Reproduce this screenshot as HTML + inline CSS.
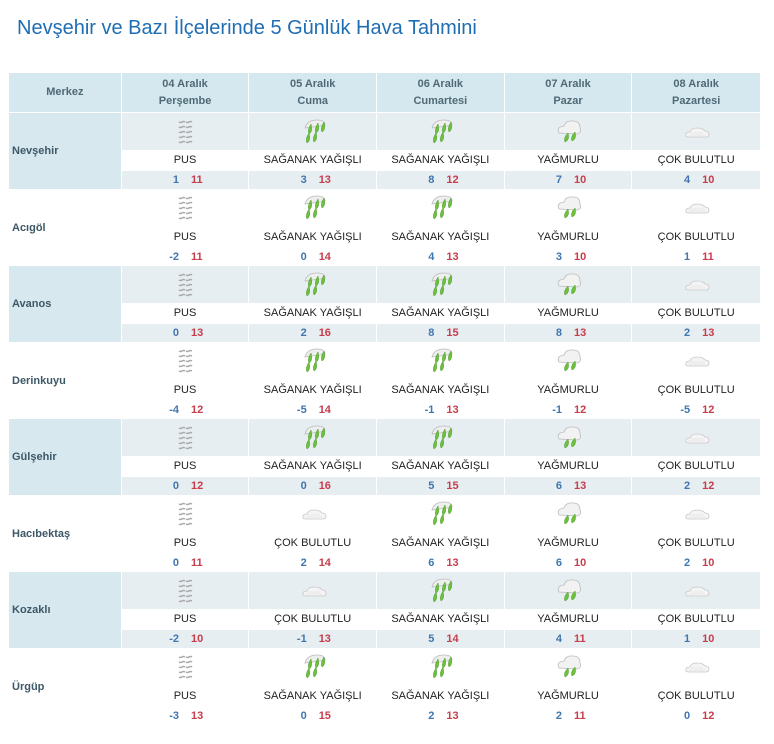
<!DOCTYPE html>
<html><head><meta charset="utf-8"><style>
body{margin:0;width:774px;height:744px;background:#fff;font-family:"Liberation Sans",sans-serif;position:relative;overflow:hidden}
h1{position:absolute;left:17px;top:17px;margin:0;font-weight:normal;font-size:20px;color:#1f6db3;letter-spacing:0}
.hd{position:absolute;left:9px;top:73px;width:751px;height:39px;display:flex;gap:1px}
.hd div{background:#d5e7ef;color:#4f6a76;font-weight:bold;font-size:11px;line-height:17px;text-align:center;display:flex;align-items:center;justify-content:center}
.row{position:absolute;left:9px;width:751px;height:76px;display:flex;gap:1px}
.city{width:112px;font-weight:bold;font-size:11px;color:#3d5866;display:flex;align-items:center;padding-left:3px;box-sizing:border-box}
.c{width:127px;display:flex;flex-direction:column}
.c:last-child{width:128px}
.i{height:37px;display:flex;align-items:center;justify-content:center}
.d{height:21px;font-size:11px;color:#222;text-align:center;line-height:21px}
.t{height:18px;font-size:11px;font-weight:bold;display:flex;justify-content:center;line-height:18px}
.t b:first-child{width:30px;text-align:right;color:#3f76b0;margin-right:12px}
.t b:last-child{width:30px;text-align:left;color:#c63d4c}
.g .city{background:#d7e8ef}
.g .i,.g .t{background:#e7eef1}
svg{width:32px;height:32px}
</style></head><body>
<svg style="position:absolute;width:0;height:0"><defs>
<g id="P" fill="none" stroke="#aaa" stroke-width="1.5"><path d="M10 6q1.5 1 3 0t3 0M10 11q1.5 1 3 0t3 0M10 16q1.5 1 3 0t3 0M10 21q1.5 1 3 0t3 0M10 26q1.5 1 3 0t3 0M17 6q1.5 1 3 0t3 0M17 11q1.5 1 3 0t3 0M17 16q1.5 1 3 0t3 0M17 21q1.5 1 3 0t3 0M17 26q1.5 1 3 0t3 0"/></g>
<g id="S"><path d="M8 12q2-8 12-8q8 0 8 5l-5 1z" fill="#eee" stroke="#bbb" stroke-width=".8"/><path d="M14 8q-4 6-2 10q4-2 2-10zM21 7q-4 6-2 10q4-2 2-10zM27 6q-4 6-2 10q4-2 2-10zM12 17q-4 6-2 10q4-2 2-10zM19 16q-4 6-2 10q4-2 2-10z" fill="#6dc13c" stroke="#4a9a2a" stroke-width=".5"/></g>
<g id="Y"><path d="M7 17q-3-6 5-7q2-6 9-5q7 0 7 7q2 5-3 6z" fill="#f2f2f2" stroke="#bbb" stroke-width=".8"/><path d="M16 17q-5 5-3 9q5-2 3-9zM23 16q-5 5-3 9q5-2 3-9z" fill="#6dc13c" stroke="#4a9a2a" stroke-width=".5"/></g>
<g id="C"><path d="M6 20q-1-4 4-4q1-4 7-4q6 0 8 3q4 0 4 3q0 3-3 3h-17q-3 0-3-1z" fill="#f4f4f4" stroke="#c8c8c8" stroke-width=".8"/><path d="M9 19h16M11 17h12" stroke="#ddd" stroke-width=".6"/></g>
</defs></svg>
<h1>Nevşehir ve Bazı İlçelerinde 5 Günlük Hava Tahmini</h1>
<div class="hd"><div style="width:112px">Merkez</div><div style="width:127px">04 Aralık<br>Perşembe</div><div style="width:127px">05 Aralık<br>Cuma</div><div style="width:127px">06 Aralık<br>Cumartesi</div><div style="width:127px">07 Aralık<br>Pazar</div><div style="width:128px">08 Aralık<br>Pazartesi</div></div>

<div class="row g" style="top:113px"><div class="city">Nevşehir</div>
<div class="c"><div class="i"><svg><use href="#P"/></svg></div><div class="d">PUS</div><div class="t"><b>1</b><b>11</b></div></div>
<div class="c"><div class="i"><svg><use href="#S"/></svg></div><div class="d">SAĞANAK YAĞIŞLI</div><div class="t"><b>3</b><b>13</b></div></div>
<div class="c"><div class="i"><svg><use href="#S"/></svg></div><div class="d">SAĞANAK YAĞIŞLI</div><div class="t"><b>8</b><b>12</b></div></div>
<div class="c"><div class="i"><svg><use href="#Y"/></svg></div><div class="d">YAĞMURLU</div><div class="t"><b>7</b><b>10</b></div></div>
<div class="c"><div class="i"><svg><use href="#C"/></svg></div><div class="d">ÇOK BULUTLU</div><div class="t"><b>4</b><b>10</b></div></div></div>

<div class="row" style="top:189.5px"><div class="city">Acıgöl</div>
<div class="c"><div class="i"><svg><use href="#P"/></svg></div><div class="d">PUS</div><div class="t"><b>-2</b><b>11</b></div></div>
<div class="c"><div class="i"><svg><use href="#S"/></svg></div><div class="d">SAĞANAK YAĞIŞLI</div><div class="t"><b>0</b><b>14</b></div></div>
<div class="c"><div class="i"><svg><use href="#S"/></svg></div><div class="d">SAĞANAK YAĞIŞLI</div><div class="t"><b>4</b><b>13</b></div></div>
<div class="c"><div class="i"><svg><use href="#Y"/></svg></div><div class="d">YAĞMURLU</div><div class="t"><b>3</b><b>10</b></div></div>
<div class="c"><div class="i"><svg><use href="#C"/></svg></div><div class="d">ÇOK BULUTLU</div><div class="t"><b>1</b><b>11</b></div></div></div>

<div class="row g" style="top:266px"><div class="city">Avanos</div>
<div class="c"><div class="i"><svg><use href="#P"/></svg></div><div class="d">PUS</div><div class="t"><b>0</b><b>13</b></div></div>
<div class="c"><div class="i"><svg><use href="#S"/></svg></div><div class="d">SAĞANAK YAĞIŞLI</div><div class="t"><b>2</b><b>16</b></div></div>
<div class="c"><div class="i"><svg><use href="#S"/></svg></div><div class="d">SAĞANAK YAĞIŞLI</div><div class="t"><b>8</b><b>15</b></div></div>
<div class="c"><div class="i"><svg><use href="#Y"/></svg></div><div class="d">YAĞMURLU</div><div class="t"><b>8</b><b>13</b></div></div>
<div class="c"><div class="i"><svg><use href="#C"/></svg></div><div class="d">ÇOK BULUTLU</div><div class="t"><b>2</b><b>13</b></div></div></div>

<div class="row" style="top:342.5px"><div class="city">Derinkuyu</div>
<div class="c"><div class="i"><svg><use href="#P"/></svg></div><div class="d">PUS</div><div class="t"><b>-4</b><b>12</b></div></div>
<div class="c"><div class="i"><svg><use href="#S"/></svg></div><div class="d">SAĞANAK YAĞIŞLI</div><div class="t"><b>-5</b><b>14</b></div></div>
<div class="c"><div class="i"><svg><use href="#S"/></svg></div><div class="d">SAĞANAK YAĞIŞLI</div><div class="t"><b>-1</b><b>13</b></div></div>
<div class="c"><div class="i"><svg><use href="#Y"/></svg></div><div class="d">YAĞMURLU</div><div class="t"><b>-1</b><b>12</b></div></div>
<div class="c"><div class="i"><svg><use href="#C"/></svg></div><div class="d">ÇOK BULUTLU</div><div class="t"><b>-5</b><b>12</b></div></div></div>

<div class="row g" style="top:419px"><div class="city">Gülşehir</div>
<div class="c"><div class="i"><svg><use href="#P"/></svg></div><div class="d">PUS</div><div class="t"><b>0</b><b>12</b></div></div>
<div class="c"><div class="i"><svg><use href="#S"/></svg></div><div class="d">SAĞANAK YAĞIŞLI</div><div class="t"><b>0</b><b>16</b></div></div>
<div class="c"><div class="i"><svg><use href="#S"/></svg></div><div class="d">SAĞANAK YAĞIŞLI</div><div class="t"><b>5</b><b>15</b></div></div>
<div class="c"><div class="i"><svg><use href="#Y"/></svg></div><div class="d">YAĞMURLU</div><div class="t"><b>6</b><b>13</b></div></div>
<div class="c"><div class="i"><svg><use href="#C"/></svg></div><div class="d">ÇOK BULUTLU</div><div class="t"><b>2</b><b>12</b></div></div></div>

<div class="row" style="top:495.5px"><div class="city">Hacıbektaş</div>
<div class="c"><div class="i"><svg><use href="#P"/></svg></div><div class="d">PUS</div><div class="t"><b>0</b><b>11</b></div></div>
<div class="c"><div class="i"><svg><use href="#C"/></svg></div><div class="d">ÇOK BULUTLU</div><div class="t"><b>2</b><b>14</b></div></div>
<div class="c"><div class="i"><svg><use href="#S"/></svg></div><div class="d">SAĞANAK YAĞIŞLI</div><div class="t"><b>6</b><b>13</b></div></div>
<div class="c"><div class="i"><svg><use href="#Y"/></svg></div><div class="d">YAĞMURLU</div><div class="t"><b>6</b><b>10</b></div></div>
<div class="c"><div class="i"><svg><use href="#C"/></svg></div><div class="d">ÇOK BULUTLU</div><div class="t"><b>2</b><b>10</b></div></div></div>

<div class="row g" style="top:572px"><div class="city">Kozaklı</div>
<div class="c"><div class="i"><svg><use href="#P"/></svg></div><div class="d">PUS</div><div class="t"><b>-2</b><b>10</b></div></div>
<div class="c"><div class="i"><svg><use href="#C"/></svg></div><div class="d">ÇOK BULUTLU</div><div class="t"><b>-1</b><b>13</b></div></div>
<div class="c"><div class="i"><svg><use href="#S"/></svg></div><div class="d">SAĞANAK YAĞIŞLI</div><div class="t"><b>5</b><b>14</b></div></div>
<div class="c"><div class="i"><svg><use href="#Y"/></svg></div><div class="d">YAĞMURLU</div><div class="t"><b>4</b><b>11</b></div></div>
<div class="c"><div class="i"><svg><use href="#C"/></svg></div><div class="d">ÇOK BULUTLU</div><div class="t"><b>1</b><b>10</b></div></div></div>

<div class="row" style="top:648.5px"><div class="city">Ürgüp</div>
<div class="c"><div class="i"><svg><use href="#P"/></svg></div><div class="d">PUS</div><div class="t"><b>-3</b><b>13</b></div></div>
<div class="c"><div class="i"><svg><use href="#S"/></svg></div><div class="d">SAĞANAK YAĞIŞLI</div><div class="t"><b>0</b><b>15</b></div></div>
<div class="c"><div class="i"><svg><use href="#S"/></svg></div><div class="d">SAĞANAK YAĞIŞLI</div><div class="t"><b>2</b><b>13</b></div></div>
<div class="c"><div class="i"><svg><use href="#Y"/></svg></div><div class="d">YAĞMURLU</div><div class="t"><b>2</b><b>11</b></div></div>
<div class="c"><div class="i"><svg><use href="#C"/></svg></div><div class="d">ÇOK BULUTLU</div><div class="t"><b>0</b><b>12</b></div></div></div>
</body></html>
